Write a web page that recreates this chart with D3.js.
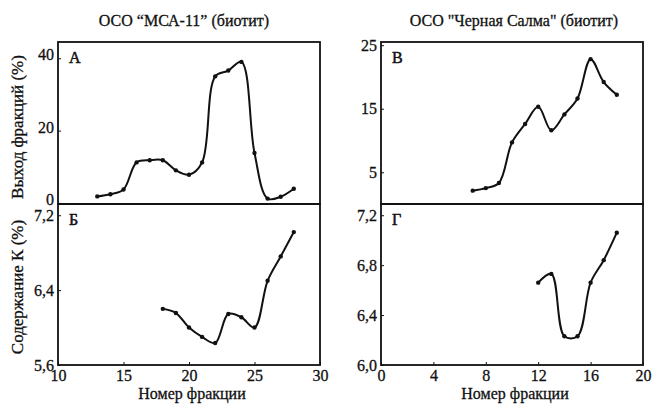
<!DOCTYPE html>
<html>
<head>
<meta charset="utf-8">
<script src="https://cdn.jsdelivr.net/npm/d3@7"></script>
<style>
  body { margin: 0; background: #fff; }
  text { font-family: "Liberation Serif", "DejaVu Serif", serif; fill: #111; }
</style>
</head>
<body>
<div id="chart"></div>
<script>
// fraction numbers and values
var fracA = [13, 14, 15, 16, 17, 18, 19, 20, 21, 22, 23, 24, 25, 26, 27, 28];
var yieldA = [1.8, 2.4, 3.7, 11.2, 11.8, 11.8, 9.0, 7.8, 11.2, 35.0, 36.6, 39.0, 13.8, 1.2, 1.7, 3.9];

var fracB = [18, 19, 20, 21, 22, 23, 24, 25, 26, 27, 28];
var potB = [6.2, 6.155, 6.0, 5.9, 5.835, 6.145, 6.11, 6.0, 6.5, 6.76, 7.02];

var fracV = [7, 8, 9, 10, 11, 12, 13, 14, 15, 16, 17, 18];
var yieldV = [2.1, 2.5, 3.3, 9.7, 12.6, 15.3, 11.6, 14.1, 16.6, 22.8, 19.2, 17.2];

var fracG = [12, 13, 14, 15, 16, 17, 18];
var potG = [6.66, 6.73, 6.23, 6.23, 6.66, 6.84, 7.06];

var ticksXLeft = [10, 15, 20, 25, 30];
var ticksXRight = [0, 4, 8, 12, 16, 20];
var ticksA = [0, 20, 40];
var ticksB = [5.6, 6.4, 7.2];
var ticksV = [5, 15, 25];
var ticksG = [6.0, 6.4, 6.8, 7.2];

var width = 653, height = 405;

var svg = d3.select('#chart')
    .append('svg')
    .attr('width', width)
    .attr('height', height);

var fmtComma = function(d) { return d3.format('.1f')(d).replace('.', ','); };
var fmtInt = d3.format('d');

var col = {
    left:  { x0: 58, x1: 320 },
    right: { x0: 381, x1: 643 }
};
var rowTop = { y0: 42, y1: 204 };
var rowBot = { y0: 204, y1: 365 };

function panel(opts) {
    var x = d3.scaleLinear().domain(opts.xDomain).range([opts.col.x0, opts.col.x1]);
    var y = d3.scaleLinear().domain(opts.yDomain).range([opts.row.y1, opts.row.y0]);
    var g = svg.append('g');

    // frame
    g.append('rect')
        .attr('x', opts.col.x0)
        .attr('y', opts.row.y0)
        .attr('width', opts.col.x1 - opts.col.x0)
        .attr('height', opts.row.y1 - opts.row.y0)
        .attr('fill', 'none')
        .attr('stroke', '#111')
        .attr('stroke-width', 1.8);

    // y axis
    var ya = g.append('g')
        .attr('transform', `translate(${opts.col.x0},0)`)
        .call(d3.axisLeft(y).tickValues(opts.yTicks).tickFormat(opts.yFmt).tickSizeInner(-3).tickSizeOuter(0).tickPadding(4));
    ya.select('.domain').remove();
    ya.selectAll('text')
        .style('font-size', '16px')
        .style('stroke', '#111').style('stroke-width', 0.3)
        .attr('dy', opts.yDy || '0.32em');
    ya.selectAll('line').attr('stroke', '#111');

    // x axis on the lower panels only
    if (opts.xTicks) {
        var xa = g.append('g')
            .attr('transform', `translate(0,${opts.row.y1})`)
            .call(d3.axisBottom(x).tickValues(opts.xTicks).tickFormat(fmtInt).tickSizeInner(-3).tickSizeOuter(0).tickPadding(5));
        xa.select('.domain').remove();
        xa.selectAll('text')
            .style('font-size', '16px')
            .style('stroke', '#111').style('stroke-width', 0.3);
        xa.selectAll('line').attr('stroke', '#111');

        g.append('text')
            .attr('x', (opts.col.x0 + opts.col.x1) / 2 + 3)
            .attr('y', 399)
            .attr('text-anchor', 'middle')
            .style('font-size', '16px')
            .style('stroke', '#111').style('stroke-width', 0.3)
            .text('Номер фракции');
    }

    var data = opts.xs.map(function(d, i) { return { x: d, y: opts.ys[i] }; });

    var line = d3.line()
        .x(function(d) { return x(d.x); })
        .y(function(d) { return y(d.y); })
        .curve(d3.curveCatmullRom.alpha(0.5));

    g.append('path')
        .datum(data)
        .attr('d', line)
        .attr('fill', 'none')
        .attr('stroke', '#111')
        .attr('stroke-width', 2);

    g.selectAll('circle')
        .data(data)
        .enter()
        .append('circle')
        .attr('cx', function(d) { return x(d.x); })
        .attr('cy', function(d) { return y(d.y); })
        .attr('r', 2.2)
        .attr('fill', '#111');

    g.append('text')
        .attr('x', opts.col.x0 + 11)
        .attr('y', opts.row.y0 + 21)
        .style('font-size', '16px')
        .style('stroke', '#111').style('stroke-width', 0.5)
        .text(opts.letter);
}

panel({ col: col.left, row: rowTop, xDomain: [10, 30], yDomain: [-0.3, 44.5],
        yTicks: ticksA, yFmt: fmtInt, xs: fracA, ys: yieldA, letter: 'А', yDy: '0.1em' });
panel({ col: col.left, row: rowBot, xDomain: [10, 30], yDomain: [5.6, 7.32],
        yTicks: ticksB, yFmt: fmtComma, xs: fracB, ys: potB, letter: 'Б', xTicks: ticksXLeft });
panel({ col: col.right, row: rowTop, xDomain: [0, 20], yDomain: [0, 25.5],
        yTicks: ticksV, yFmt: fmtInt, xs: fracV, ys: yieldV, letter: 'В' });
panel({ col: col.right, row: rowBot, xDomain: [0, 20], yDomain: [6.0, 7.29],
        yTicks: ticksG, yFmt: fmtComma, xs: fracG, ys: potG, letter: 'Г', xTicks: ticksXRight });

// titles
svg.append('text')
    .attr('x', 184).attr('y', 26)
    .attr('text-anchor', 'middle')
    .style('font-size', '16px')
    .style('stroke', '#111').style('stroke-width', 0.3)
    .text('ОСО “МСА-11” (биотит)');

svg.append('text')
    .attr('x', 514).attr('y', 26)
    .attr('text-anchor', 'middle')
    .style('font-size', '16px')
    .style('stroke', '#111').style('stroke-width', 0.3)
    .text('ОСО "Черная Салма" (биотит)');

// y axis titles
svg.append('text')
    .attr('transform', 'translate(23,127) rotate(-90)')
    .attr('text-anchor', 'middle')
    .style('font-size', '17px')
    .style('stroke', '#111').style('stroke-width', 0.3)
    .text('Выход фракций (%)');

svg.append('text')
    .attr('transform', 'translate(23,287) rotate(-90)')
    .attr('text-anchor', 'middle')
    .style('font-size', '17px')
    .style('stroke', '#111').style('stroke-width', 0.3)
    .text('Содержание К (%)');
</script>
</body>
</html>
